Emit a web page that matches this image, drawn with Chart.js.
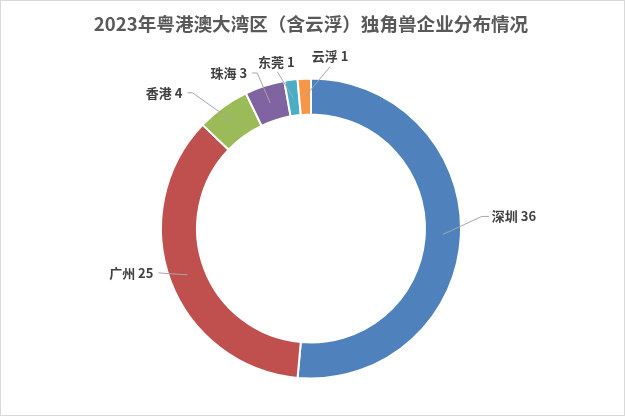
<!DOCTYPE html>
<html>
<head>
<meta charset="utf-8">
<script src="https://cdn.jsdelivr.net/npm/chart.js@4/dist/chart.umd.min.js"></script>
<style>
  html, body { margin: 0; padding: 0; background: #fff; }
  #wrap {
    width: 625px; height: 416px; box-sizing: border-box;
    border: 1px solid #d9d9d9; background: #fff;
  }
  canvas { display: block; }
</style>
</head>
<body>
<div id="wrap"><canvas id="chart" width="623" height="414"></canvas></div>
<script>
// chart data
var title = '2023年粤港澳大湾区（含云浮）独角兽企业分布情况';
var cities = ['深圳', '广州', '香港', '珠海', '东莞', '云浮'];
var counts = [36, 25, 4, 3, 1, 1];
var colors = ['#4f81bd', '#c0504d', '#9bbb59', '#8064a2', '#4bacc6', '#f79646'];

var FONT = '"Microsoft YaHei", "Noto Sans CJK SC", "Noto Sans", sans-serif';

// where each label sits relative to its slice (offsets from the slice's mid point)
// elbow: optional bend in the leader, end: where the leader stops, text: label anchor
var labelLayout = [
  { elbow: [39, -18], end: [46, -18], text: [49, -18], align: 'left' },
  { end: [-29, -2], text: [-34, -2], align: 'right' },
  { elbow: [-41, -29], end: [-46, -29], text: [-51, -29], align: 'right' },
  { elbow: [-13, -30], end: [-18, -30], text: [-23, -30], align: 'right' },
  { end: [-16, -26], text: [-17, -36], align: 'center' },
  { end: [25, -30], text: [25, -41], align: 'center' }
];

/**
 * Draw leader lines and "name value" labels next to each slice
 */
var leaderLabels = {
  id: 'leaderLabels',
  afterDatasetsDraw: function(chart) {
    var ctx = chart.ctx;
    var meta = chart.getDatasetMeta(0);
    ctx.save();
    meta.data.forEach(function(arc, i) {
      var p = arc.getProps(['x', 'y', 'startAngle', 'endAngle', 'innerRadius', 'outerRadius'], true);
      var mid = (p.startAngle + p.endAngle) / 2;
      var r = (p.innerRadius + p.outerRadius) / 2;
      var ax = p.x + Math.cos(mid) * r;
      var ay = p.y + Math.sin(mid) * r;
      var lay = labelLayout[i];

      ctx.strokeStyle = '#a6a6a6';
      ctx.lineWidth = 1;
      ctx.beginPath();
      ctx.moveTo(ax, ay);
      if (lay.elbow) ctx.lineTo(ax + lay.elbow[0], ay + lay.elbow[1]);
      ctx.lineTo(ax + lay.end[0], ay + lay.end[1]);
      ctx.stroke();

      ctx.fillStyle = '#404040';
      ctx.font = 'bold 13px ' + FONT;
      ctx.textAlign = lay.align;
      ctx.textBaseline = 'middle';
      ctx.fillText(cities[i] + ' ' + counts[i], ax + lay.text[0], ay + lay.text[1]);
    });
    ctx.restore();
  }
};

new Chart(document.getElementById('chart'), {
  type: 'doughnut',
  data: {
    labels: cities,
    datasets: [{
      data: counts,
      backgroundColor: colors,
      borderColor: '#ffffff',
      borderWidth: 2
    }]
  },
  options: {
    responsive: false,
    animation: false,
    cutout: '76%',
    layout: { padding: { left: 0, right: 3, top: 0, bottom: 35.5 } },
    plugins: {
      legend: { display: false },
      tooltip: { enabled: false },
      title: {
        display: true,
        text: title,
        color: '#595959',
        font: { family: FONT, size: 18.6, weight: 'bold' },
        padding: { top: 11.5, bottom: 42.7 }
      }
    }
  },
  plugins: [leaderLabels]
});
</script>
</body>
</html>
